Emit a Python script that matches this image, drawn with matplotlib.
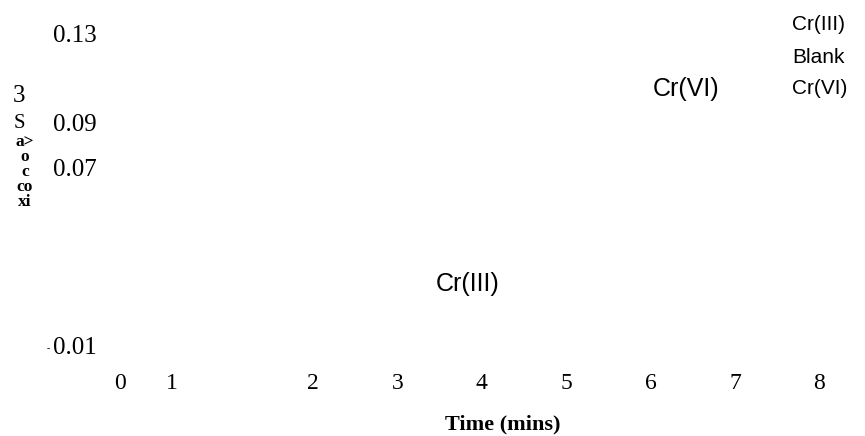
import matplotlib
matplotlib.use('Agg')
import matplotlib.pyplot as plt

# ticks as printed in the figure (0 and 1 sit off the regular spacing)
x_tick_pos = [-0.29, 0.33, 2, 3, 4, 5, 6, 7, 8]
x_tick_labels = ['0', '1', '2', '3', '4', '5', '6', '7', '8']
y_ticks = [0.13, 0.09, 0.07, -0.01]
y_tick_labels = ['0.13', '0.09', '0.07', '0.01']

# curve labels (data coords) and the legend entries
curve_names = ['Cr(VI)', 'Cr(III)']
curve_label_x = [6.42, 3.83]
curve_label_y = [0.1052, 0.0177]
legend_labels = ['Cr(III)', 'Blank', 'Cr(VI)']

# scrambled y axis title pieces, top to bottom
ylabel_top = ['3', 'S']
ylabel_rest = ['a>', 'o', 'c', 'co', 'xi']

serif = 'Liberation Serif'
sans = 'Liberation Sans'

W, H = 865, 436
fig = plt.figure(figsize=(W / 100, H / 100), dpi=100)
ax = fig.add_axes([105 / W, 1 - 367 / H, 740 / W, 348 / H])

ax.set_xlim(-0.4645, 8.3033)
ax.set_ylim(-0.01958, 0.13668)
for s in ax.spines.values():
    s.set_visible(False)

ax.set_xticks(x_tick_pos)
ax.set_xticklabels(x_tick_labels, family=serif, fontsize=17)
ax.set_yticks(y_ticks)
ax.set_yticklabels(y_tick_labels, family=serif, fontsize=18)
ax.tick_params(axis='both', length=0)
ax.tick_params(axis='x', pad=4)
ax.tick_params(axis='y', pad=6)

# tiny minus sign in front of 0.01
fig.text(48 / W, 1 - 349 / H, '-', family=serif, fontsize=7, ha='center', va='center')

for name, cx, cy in zip(curve_names, curve_label_x, curve_label_y):
    ax.text(cx, cy, name, family=sans, fontsize=18, ha='center', va='center')

leg_y = [25, 57, 88]
for lab, ly in zip(legend_labels, leg_y):
    fig.text(792 / W, 1 - ly / H, lab, family=sans, fontsize=15, ha='left', va='center')

fig.text(503 / W, 1 - 424 / H, 'Time (mins)', family=serif, fontsize=16,
         fontweight='bold', ha='center', va='center')

# y title: '3' and 'S' in plain type, the rest bold and packed tight
fig.text(19 / W, 1 - 96 / H, ylabel_top[0], family=serif, fontsize=18,
         ha='center', va='center')
fig.text(19 / W, 1 - 123 / H, ylabel_top[1], family=serif, fontsize=15,
         ha='center', va='center')
fig.text(25 / W, 1 - 172 / H, '\n'.join(ylabel_rest), family=serif, fontsize=12.5,
         fontweight='bold', ha='center', va='center', multialignment='center',
         linespacing=0.92)

plt.savefig('out.png', dpi=100)
